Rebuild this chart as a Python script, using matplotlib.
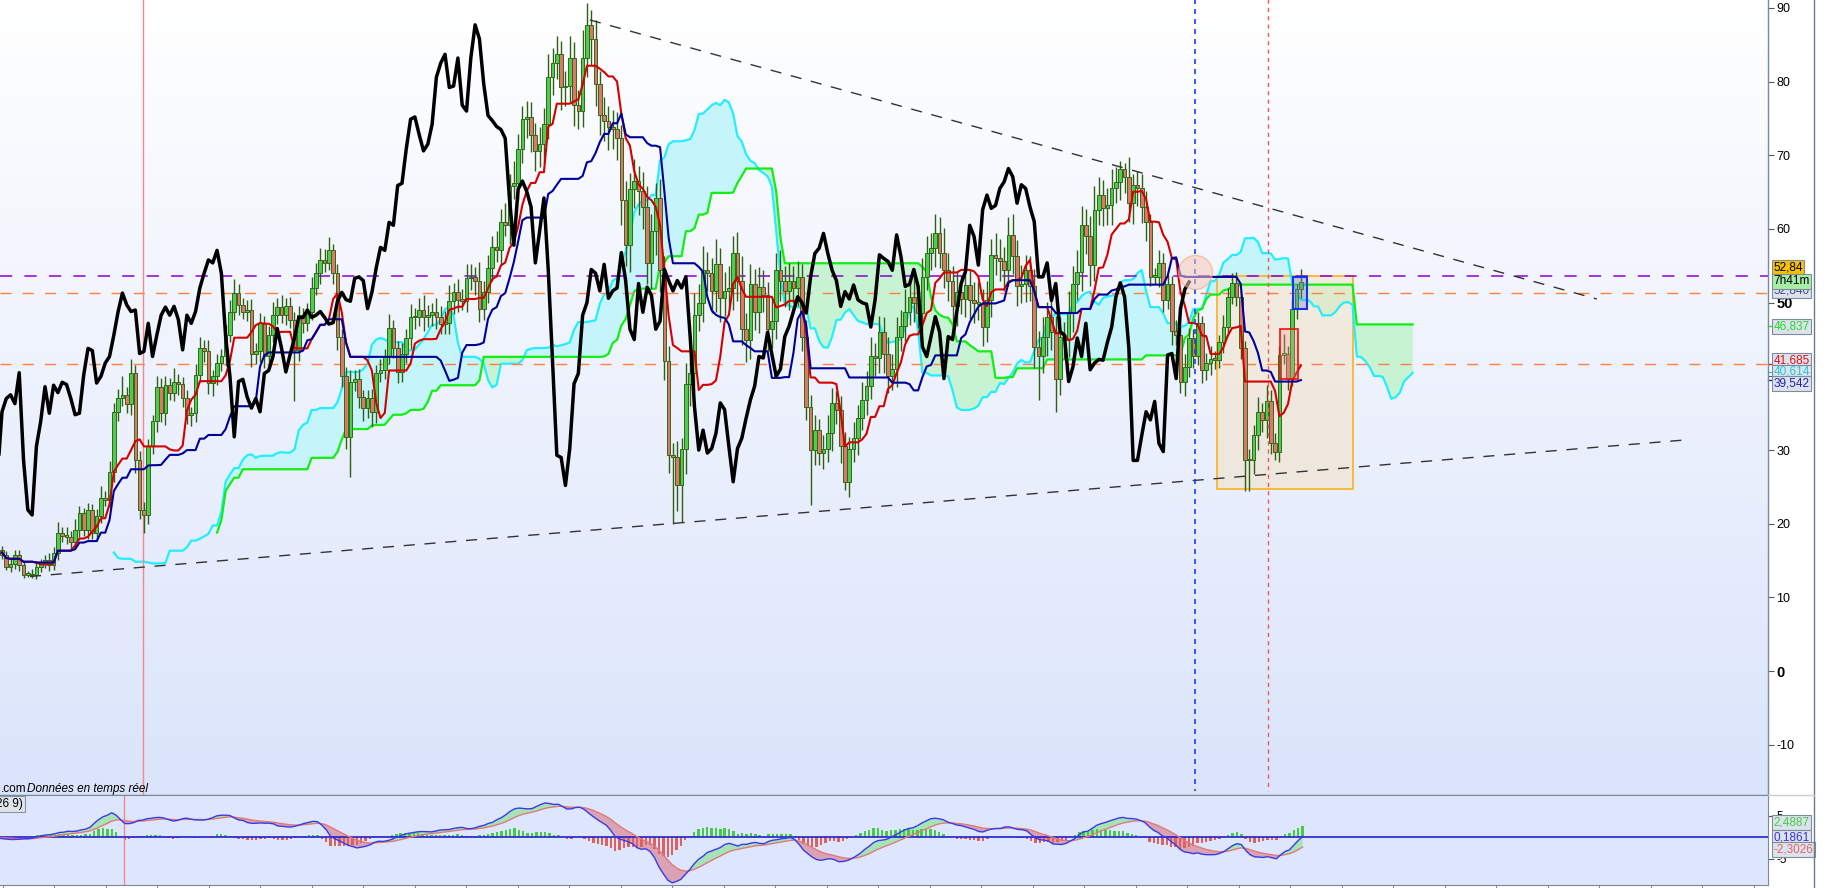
import numpy as np
import pandas as pd
import matplotlib
matplotlib.use("Agg")
import matplotlib.pyplot as plt
import matplotlib.transforms as mtransforms
from matplotlib.colors import LinearSegmentedColormap
from matplotlib.patches import Rectangle, Ellipse
from matplotlib.lines import Line2D

plt.rcParams['font.family'] = ['Liberation Sans', 'DejaVu Sans']

# cours de cloture (un point par bougie)
closes = [
    15.8, 14.2, 14.5, 15.8, 14.4, 13.1, 13.2, 13.0, 14.2, 14.6,
    15.1, 14.4, 16.0, 18.7, 18.3, 18.2, 17.5, 19.2, 21.4, 19.2,
    21.9, 18.7, 21.0, 23.5, 23.2, 27.0, 35.2, 37.0, 37.5, 36.3,
    40.5, 28.7, 21.9, 21.2, 30.5, 33.9, 38.6, 35.0, 38.8, 37.8,
    39.2, 38.9, 37.0, 34.8, 35.0, 40.2, 43.8, 43.5, 39.1, 40.0,
    41.8, 42.7, 45.6, 48.8, 51.3, 49.7, 48.8, 49.0, 43.1, 43.4,
    47.2, 42.7, 45.6, 48.3, 49.4, 48.3, 49.5, 47.7, 43.6, 48.3,
    47.2, 48.8, 52.0, 54.0, 55.8, 55.4, 57.1, 54.0, 45.4, 40.0,
    31.8, 39.3, 39.6, 37.2, 35.7, 37.0, 35.2, 40.4, 40.8, 42.7,
    46.5, 43.8, 40.6,
    43.0, 45.2, 48.0, 48.0, 49.0, 48.0, 48.3, 48.8, 48.0, 47.1,
    47.3, 50.2, 51.4, 50.4, 50.2, 53.3, 53.5, 53.0, 49.2, 51.4,
    54.7, 57.5, 57.1, 60.9, 60.5, 65.9, 66.2, 70.9, 74.9, 75.2,
    72.8, 70.6, 71.5, 74.2, 80.6, 82.5, 83.7, 79.2, 79.4, 83.2,
    76.8, 76.0, 83.2, 87.7, 85.8, 79.7, 75.4, 74.7, 73.9, 73.5,
    72.3, 64.0, 57.8, 65.4, 66.5, 65.1, 63.0, 55.4, 59.7, 64.2,
    54.5, 42.1, 29.3, 29.0, 25.2, 30.2, 39.0, 40.4, 48.3, 50.0,
    54.5, 54.0, 51.6, 55.2, 50.6, 51.6, 52.0, 56.8, 53.0, 46.4,
    45.0, 52.6, 48.7, 52.1, 51.0, 46.4, 47.5, 54.5, 53.0, 51.6,
    53.0, 52.0, 53.5,
    45.4, 35.9, 30.0, 32.7, 29.6, 30.2, 32.3, 36.4, 35.5, 30.5,
    25.7, 30.2, 31.6, 34.3, 36.8, 38.7, 42.7, 42.5, 46.0, 43.0,
    40.0, 41.0, 45.4, 46.8, 48.8, 50.8, 50.0, 48.6, 53.5, 56.7,
    57.4, 59.4, 56.7, 54.4, 53.0, 49.5, 51.5, 50.5, 52.4, 50.4,
    50.0, 49.8, 46.7, 50.4, 56.5, 56.0, 55.6, 54.4, 59.2, 56.3,
    52.2, 52.5, 54.5, 52.2, 44.0, 42.7, 45.4, 48.1, 46.0, 39.7,
    45.4, 45.0, 48.8, 52.6, 54.2, 60.5, 59.0, 55.1, 62.6, 64.6,
    62.8, 63.2, 65.5, 66.4, 68.2, 67.1, 63.5, 66.0, 65.5, 63.0,
    61.0,
    53.5, 53.5, 55.4, 50.3, 52.6, 46.1, 45.6, 39.3, 41.3, 45.2,
    42.7, 47.2, 40.9, 41.8, 42.3, 42.2, 44.6, 46.7, 50.8, 52.7,
    50.8, 43.8, 28.6, 28.6, 32.0, 35.2, 34.1, 36.6, 30.9, 29.8,
    42.9, 43.1, 39.7, 49.2, 51.8, 52.8,
]
first_open = 16.4

# meche haute / basse de chaque bougie
wick_hi = [
    0.6, 0.5, 0.8, 0.7, 0.6, 0.5, 0.4, 0.6, 0.8, 0.6,
    0.7, 0.9, 0.8, 1.5, 0.9, 1.2, 0.8, 1.4, 1.0, 0.8,
    0.9, 0.8, 1.0, 1.6, 1.0, 1.5, 1.2, 1.3, 2.5, 1.0,
    1.8, 1.0, 1.2, 1.1, 1.0, 0.9, 1.5, 1.2, 1.3, 1.0,
    2.0, 1.1, 1.0, 1.2, 0.9, 1.5, 1.6, 1.2, 1.5, 0.8,
    1.3, 1.0, 1.4, 1.6, 1.9, 1.2, 1.0, 1.4, 1.5, 1.1,
    1.4, 1.0, 1.2, 1.8, 1.3, 1.6, 1.1, 1.3, 1.0, 1.2,
    1.0, 1.2, 1.5, 1.4, 1.6, 1.5, 1.8, 0.8, 1.2, 1.0,
    1.3, 1.5, 1.2, 1.4, 1.0, 1.1, 1.3, 1.2, 1.5, 1.0,
    1.9, 1.2, 1.0,
    1.5, 1.2, 1.8, 1.3, 1.6, 2.0, 1.4, 1.2, 1.8, 1.5,
    1.6, 2.2, 1.3, 1.8, 1.5, 2.0, 1.7, 1.4, 2.5, 1.6,
    1.8, 1.5, 2.2, 1.8, 2.6, 1.5, 3.0, 2.0, 1.8, 2.2,
    2.0, 1.6, 2.4, 2.2, 3.2, 2.0, 2.5, 1.8, 2.0, 3.0,
    2.2, 2.0, 3.8, 3.0, 2.0, 2.6, 1.8, 2.5, 2.0, 2.2,
    2.4, 1.8, 2.5, 2.2, 3.0, 2.0, 2.6, 2.8, 2.4, 2.0,
    2.6, 1.8, 2.0, 1.6, 2.2, 1.5, 2.8, 2.0, 3.0, 2.6,
    3.2, 2.4, 2.0, 3.5, 2.2, 2.6, 3.0, 2.2, 2.8, 3.4,
    2.2, 2.6, 2.0, 2.8, 2.4, 1.8, 3.0, 2.2, 2.6, 2.0,
    2.4, 2.0, 2.2,
    1.8, 2.2, 1.6, 2.0, 1.5, 1.8, 2.4, 2.0, 1.6, 1.8,
    2.0, 1.6, 2.2, 1.8, 2.4, 2.0, 2.6, 1.8, 2.2, 2.0,
    2.4, 2.0, 2.6, 2.2, 3.0, 2.4, 2.8, 2.2, 2.6, 2.3,
    2.0, 2.6, 2.2, 3.5, 2.4, 2.0, 2.8, 2.2, 2.6, 2.0,
    2.4, 2.8, 2.0, 2.6, 2.2, 3.0, 2.6, 2.0, 2.4, 2.8,
    2.2, 2.6, 2.0, 1.8, 2.4, 2.2, 2.6, 2.0, 2.4, 2.2,
    2.6, 2.0, 2.8, 2.4, 3.0, 2.6, 2.2, 2.8, 3.2, 2.4,
    2.0, 2.4, 2.6, 2.0, 1.0, 0.8, 2.6, 1.4, 1.8, 2.0,
    2.2,
    1.0, 1.2, 1.8, 1.4, 1.2, 1.0, 1.6, 1.2, 1.8, 1.4,
    1.2, 1.6, 1.0, 1.4, 1.8, 1.2, 1.0, 1.6, 1.2, 1.3,
    1.5, 0.8, 1.0, 1.6, 1.4, 2.0, 1.2, 2.2, 1.6, 1.4,
    1.2, 2.6, 1.0, 1.2, 0.8, 1.8,
]
wick_lo = [
    0.6, 0.5, 0.7, 0.6, 0.8, 0.4, 0.3, 0.3, 0.5, 0.7,
    0.6, 0.8, 0.7, 0.9, 0.8, 1.0, 1.1, 0.7, 1.0, 0.9,
    1.2, 0.8, 1.0, 0.9, 0.8, 1.0, 1.3, 1.2, 1.0, 1.3,
    1.5, 1.8, 1.3, 2.5, 1.2, 1.0, 1.4, 1.2, 1.6, 1.0,
    1.1, 1.4, 1.2, 1.3, 1.5, 1.2, 1.0, 1.6, 1.5, 1.8,
    1.2, 1.1, 1.3, 1.0, 1.2, 1.4, 1.0, 1.3, 1.8, 1.4,
    1.5, 1.6, 1.4, 1.0, 1.2, 1.1, 1.3, 1.2, 7.0, 1.5,
    1.3, 1.1, 1.2, 1.0, 1.5, 1.2, 1.0, 1.4, 1.8, 1.5,
    1.6, 5.4, 1.3, 1.5, 1.8, 1.4, 2.0, 1.5, 1.2, 1.1,
    1.0, 1.3, 1.5,
    1.4, 1.2, 1.5, 1.6, 1.2, 1.8, 1.3, 1.5, 1.6, 1.4,
    1.3, 1.5, 1.8, 1.6, 1.2, 1.4, 1.6, 2.0, 1.8, 1.5,
    1.5, 1.8, 1.6, 2.0, 1.4, 2.5, 1.8, 2.2, 2.0, 2.6,
    2.4, 2.8, 2.2, 2.5, 2.0, 2.4, 2.2, 3.0, 2.5, 2.2,
    2.8, 2.4, 2.2, 2.6, 3.5, 3.0, 2.6, 2.8, 3.2, 2.6,
    3.0, 3.4, 2.8, 3.6, 2.6, 3.2, 3.0, 2.8, 3.5, 3.2,
    3.0, 2.6, 2.4, 9.0, 3.5, 5.0, 3.5, 3.0, 2.4, 2.2,
    2.6, 2.4, 3.0, 2.8, 3.2, 2.4, 2.6, 3.0, 2.8, 2.2,
    3.0, 2.6, 2.4, 2.8, 2.2, 3.0, 2.6, 2.4, 2.8, 2.2,
    2.6, 2.0, 2.4,
    2.0, 1.8, 7.4, 2.0, 1.6, 2.2, 1.8, 2.4, 2.0, 2.2,
    1.1, 2.0, 1.8, 2.2, 1.6, 2.0, 1.8, 2.4, 2.0, 2.6,
    2.2, 1.8, 2.4, 2.0, 2.2, 1.8, 2.6, 2.0, 2.4, 1.8,
    2.2, 2.6, 2.0, 2.4, 2.8, 2.2, 2.6, 2.0, 2.4, 2.6,
    2.8, 2.2, 2.6, 2.0, 2.4, 2.2, 2.6, 2.8, 2.2, 2.4,
    2.6, 2.2, 2.4, 2.0, 2.8, 5.9, 2.2, 2.6, 2.4, 4.5,
    2.2, 2.6, 2.4, 2.8, 2.2, 2.6, 2.4, 2.8, 2.2, 2.0,
    2.4, 2.2, 2.6, 2.0, 2.4, 2.2, 2.6, 2.8, 2.4, 2.2,
    2.6,
    1.2, 1.0, 1.4, 1.6, 1.2, 1.8, 1.4, 1.6, 2.0, 1.4,
    1.6, 1.2, 1.8, 1.4, 1.6, 1.2, 1.0, 1.4, 1.2, 1.0,
    1.2, 1.4, 4.2, 4.2, 1.8, 2.0, 1.6, 2.4, 1.4, 1.1,
    1.4, 1.2, 1.6, 1.0, 1.4, 1.2,
]

# niveaux et dessins
purple_level = 53.6
orange_levels = [51.3, 41.65]
trend_top = ([136.7, 370.8], [88.36, 50.5])
trend_bottom = ([6.5, 391.8], [12.85, 31.4])
red_vline = 32.8
blue_vline = 277.4
red_dash_vline = 294.3

price_ticks = [90, 80, 70, 60, 50, 40, 30, 20, 10, 0, -10]
price_tags = [
    ("52,840", 51.6, '#3d4f8a', '#dde3ee'),
    ("52,84", 54.8, '#000000', '#f5c000'),
    ("7h41m", 52.9, '#000000', '#a6eea6'),
    ("46,837", 46.8, '#22dd22', '#dde3ee'),
    ("41,685", 42.2, '#dd1111', '#dde3ee'),
    ("40,614", 40.6, '#22c8d8', '#dde3ee'),
    ("39,542", 39.0, '#2222aa', '#dde3ee'),
]
macd_tags = [
    ("2,4887", 3.3, '#44cc44'),
    ("0,1861", 0.0, '#3333dd'),
    ("-2,3026", -2.9, '#e06666'),
]

#%% calculs
n = min(len(closes), len(wick_hi), len(wick_lo))
c = np.array(closes[:n])
o = np.r_[first_open, c[:-1]]
hi = np.maximum(o, c) + np.array(wick_hi[:n])
lo = np.minimum(o, c) - np.array(wick_lo[:n])
idx = np.arange(n)

s_hi = pd.Series(hi)
s_lo = pd.Series(lo)
tenkan = (s_hi.rolling(9, min_periods=1).max() + s_lo.rolling(9, min_periods=1).min()) / 2
kijun = (s_hi.rolling(26, min_periods=1).max() + s_lo.rolling(26, min_periods=1).min()) / 2
span_a = ((tenkan + kijun) / 2).values
span_b = ((s_hi.rolling(52, min_periods=25).max() + s_lo.rolling(52, min_periods=25).min()) / 2).values

ema12 = pd.Series(c).ewm(span=12, adjust=False).mean()
ema26 = pd.Series(c).ewm(span=26, adjust=False).mean()
macd = (ema12 - ema26).values
signal = pd.Series(macd).ewm(span=9, adjust=False).mean().values
hist = macd - signal

#%% figure
W, H = 1843, 888
fig = plt.figure(figsize=(W / 100, H / 100), dpi=100)
fig.patch.set_facecolor('white')

ax = fig.add_axes([0, 93 / H, 1768 / W, 795 / H])
axm = fig.add_axes([0, 3 / H, 1768 / W, 90 / H])

cm = LinearSegmentedColormap.from_list('fond', ['#ffffff', '#dbe4fb'])
grad = np.linspace(0, 1, 256).reshape(-1, 1)
ax.imshow(grad, cmap=cm, aspect='auto', extent=(0, 1, 0, 1),
          transform=ax.transAxes, zorder=0, interpolation='bicubic')

# nuage
xs = idx + 26
ok = ~np.isnan(span_b)
ax.fill_between(xs, span_a, span_b, where=ok & (span_a >= span_b), interpolate=True,
                color='#c6f4fb', lw=0, zorder=1)
ax.fill_between(xs, span_a, span_b, where=ok & (span_a < span_b), interpolate=True,
                color='#c8f3d3', lw=0, zorder=1)
ax.plot(xs, span_a, color='#22eeff', lw=1.6, zorder=2)
ax.plot(xs, span_b, color='#11ee11', lw=1.6, zorder=2)

# boite orange
ax.add_patch(Rectangle((282.5, 24.7), 31.6, 28.9, fc='#f3e2c6', ec='#ffb52e',
                       lw=1.2, alpha=0.55, zorder=1.5))
ax.add_patch(Rectangle((282.5, 24.7), 31.6, 28.9, fill=False, ec='#ffb52e',
                       lw=1.2, zorder=1.6))

# bougies
up = c >= o
body_lo = np.minimum(o, c)
body_h = np.maximum(np.abs(c - o), 0.25)
ax.vlines(idx, lo, hi, color='#2f5f12', lw=1.0, zorder=3)
ax.bar(idx[up], body_h[up], bottom=body_lo[up], width=0.85, color='#4fcc4f',
       edgecolor='#2e6b18', linewidth=0.7, zorder=3.5)
ax.bar(idx[~up], body_h[~up], bottom=body_lo[~up], width=0.85, color='#e0766a',
       edgecolor='#2e6b18', linewidth=0.7, zorder=3.5)

# tenkan, kijun, chikou
ax.plot(idx, tenkan, color='#d40000', lw=1.5, zorder=4)
ax.plot(idx, kijun, color='#000099', lw=1.5, zorder=4)
ax.plot(idx - 26, c, color='black', lw=2.5, zorder=5)

# lignes horizontales
ax.axhline(purple_level, color='#8a00d4', lw=1.1, dashes=(8, 8), zorder=2.5)
for lv in orange_levels:
    ax.axhline(lv, color='#ff8040', lw=1.0, dashes=(8, 8), zorder=2.5)

# droites de tendance
ax.plot(*trend_top, color='#333333', lw=1.0, dashes=(8, 7), zorder=6)
ax.plot(*trend_bottom, color='#333333', lw=1.0, dashes=(8, 7), zorder=6)

# verticales
ax.axvline(red_vline, color='#f08a8a', lw=1.0, zorder=2.5)
ax.plot([blue_vline, blue_vline], [91.5, -16.2], color='#1a3cff', lw=1.2,
        dashes=(3, 3), zorder=6)
ax.plot([red_dash_vline, red_dash_vline], [91.5, -16.2], color='#e85a5a', lw=1.0,
        dashes=(3, 3), zorder=6)

# marquages
ax.add_patch(Ellipse((277.5, 54.1), 7.9, 4.6, fc='#f7c8b8', ec='#f4a070',
                     lw=1.0, alpha=0.55, zorder=6))
ax.add_patch(Rectangle((297.1, 39.7), 4.3, 6.7, fc=(1, 0.6, 0.6, 0.3), ec='#ee1111',
                       lw=1.2, zorder=6))
ax.add_patch(Rectangle((300.2, 49.2), 3.2, 4.3, fc=(0.45, 0.5, 0.8, 0.35), ec='#1133ee',
                       lw=1.5, zorder=6))

ax.set_xlim(-0.465, 410.6)
ax.set_ylim(-16.8, 91.07)
ax.set_xticks([])
ax.yaxis.tick_right()
ax.set_yticks(price_ticks)
ax.set_yticklabels([str(t) for t in price_ticks])
ax.tick_params(axis='y', length=4, width=0.8, color='#555555', labelsize=9, pad=2)
for lab in ax.get_yticklabels():
    if lab.get_text() in ('50', '0'):
        lab.set_fontweight('bold')
        lab.set_fontsize(10.5)
for side in ('left', 'top'):
    ax.spines[side].set_visible(False)
for side in ('right', 'bottom'):
    ax.spines[side].set_color('#7a8a99')
    ax.spines[side].set_linewidth(1.0)

trans = mtransforms.blended_transform_factory(ax.transAxes, ax.transData)
for k, (txt, val, col, fc) in enumerate(price_tags):
    ax.text(1.003, val, txt, transform=trans, ha='left', va='center', fontsize=8.5,
            color=col, clip_on=False, zorder=10 + k,
            bbox=dict(boxstyle='square,pad=0.12', fc=fc, ec='#7f8c99', lw=0.8))
for val, col in [(46.8, '#22dd22'), (41.7, '#dd1111'), (40.6, '#22c8d8'), (39.5, '#2222aa')]:
    ax.plot([1.0, 1.004], [val, val], transform=trans, color=col, lw=1.0, clip_on=False)

fig.text(1 / W, 1 - 789 / H, ".com", fontsize=8.5, va='center', ha='left')
fig.text(27 / W, 1 - 789 / H, "Données en temps réel", fontsize=8.5, va='center',
         ha='left', style='italic')

#%% MACD
axm.set_facecolor('#dde6fc')
axm.fill_between(idx, macd, signal, where=macd >= signal, interpolate=True,
                 color='#a6e3b6', lw=0, zorder=1)
axm.fill_between(idx, macd, signal, where=macd < signal, interpolate=True,
                 color='#d9a3b5', lw=0, zorder=1)
axm.bar(idx, hist, width=0.55, color=np.where(hist >= 0, '#44cc44', '#e06060'), zorder=2)
axm.axhline(0, color='#2222cc', lw=1.2, zorder=3)
axm.plot(idx, signal, color='#e07a7a', lw=1.0, zorder=4)
axm.plot(idx, macd, color='#3a3ae8', lw=1.0, zorder=5)
axm.axvline(red_vline, color='#f08a8a', lw=1.0, zorder=2.5)

mx0, mx1 = 4.48, 408.3
axm.set_xlim(mx0, mx1)
axm.set_ylim(-11.16, 9.77)
px = np.arange(2.6, 1768, 51.5)
axm.set_xticks(mx0 + px / 1768 * (mx1 - mx0))
axm.set_xticklabels([])
axm.tick_params(axis='x', length=3, color='#7a8a99')
axm.yaxis.tick_right()
axm.set_yticks([5, -5])
axm.set_yticklabels(['5', '-5'])
axm.tick_params(axis='y', length=4, color='#555555', labelsize=8.5, pad=2)
axm.spines['left'].set_visible(False)
for side in ('right', 'bottom', 'top'):
    axm.spines[side].set_color('#7a8a99')

transm = mtransforms.blended_transform_factory(axm.transAxes, axm.transData)
for k, (txt, val, col) in enumerate(macd_tags):
    axm.text(1.003, val, txt, transform=transm, ha='left', va='center', fontsize=8.5,
             color=col, clip_on=False, zorder=10 + k,
             bbox=dict(boxstyle='square,pad=0.12', fc='#dde3ee', ec='#7f8c99', lw=0.8))

fig.text(-4 / W, 1 - 804 / H, "26 9)", fontsize=8.5, va='center', ha='left',
         bbox=dict(boxstyle='square,pad=0.2', fc='#dfe3ea', ec='#8a96a3', lw=0.8))

# cadre de droite
fig.add_artist(Line2D([1814 / W, 1814 / W], [0, 1], color='#6b7b8a', lw=1.0))
fig.add_artist(Line2D([1768 / W, 1814 / W], [93 / H, 93 / H], color='#cccccc', lw=1.0))

fig.savefig('out.png', dpi=100)
